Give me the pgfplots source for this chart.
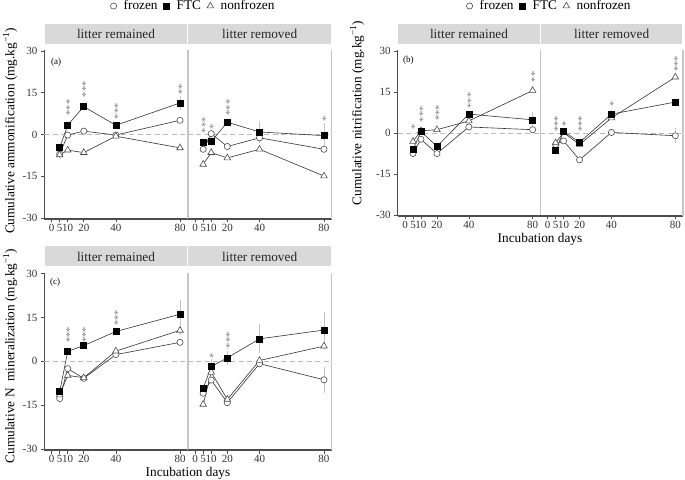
\documentclass[border=0pt]{standalone}
\usepackage{fontspec}
\setmainfont{Liberation Serif}
\usepackage{pgfplots}
\pgfplotsset{compat=1.18}

\definecolor{stripgray}{HTML}{D9D9D9}
\definecolor{divgray}{HTML}{C6C6C6}
\definecolor{axgray}{HTML}{4D4D4D}
\definecolor{errgray}{HTML}{C4C4C4}
\definecolor{stargray}{HTML}{7A7A7A}

\newcommand{\tickfont}{\fontsize{11}{12}\selectfont}
\newcommand{\labfont}{\fontsize{13.3}{15}\selectfont}
\newcommand{\stars}[3]{\node[stargray, rotate=90, inner sep=0pt, font=\fontsize{10.5}{10}\selectfont] at ([xshift=2pt]axis cs:#1,#2) {#3};}

\pgfplotsset{
  facet/.style={
    scale only axis, clip=false,
    xmin=-4.6, xmax=84.8, ymin=-30.3, ymax=30.3,
    xtick={0,5,10,20,40,80},
    ytick={-30,-15,0,15,30},
    tick align=outside, major tick length=3.5pt,
    tick style={axgray, line width=0.6pt},
    tick label style={font=\tickfont, text=black!80},
    xticklabel style={yshift=2pt},
    /pgf/number format/assume math mode=true,
    axis x line*=bottom,
    axis line style={-, axgray, line width=1.1pt},
    title style={at={(0.5,1)}, anchor=south, yshift=0pt, fill=stripgray,
      inner sep=0pt, minimum height=20pt, font=\labfont, text=black!85},
    every axis plot/.append style={line width=0.6pt, black!80},
    error bars/y dir=both, error bars/y explicit,
    error bars/error mark=none,
    error bars/error bar style={errgray, line width=0.8pt},
    legend image code/.code={\draw[##1] plot coordinates {(0pt,0pt)};},
    legend cell align=left,
  },
  leftfacet/.style={facet, axis y line*=left},
  rightfacet/.style={facet, axis y line=none, ytick=\empty},
  fz/.style={mark=*, mark size=3.1pt, mark options={fill=white, draw=black!70, line width=0.6pt}},
  ftc/.style={mark=square*, mark size=3pt, mark options={fill=black, draw=black}},
  nf/.style={mark=triangle*, mark size=3.8pt, mark options={fill=white, draw=black!70, line width=0.6pt}},
  zeroline/.style={forget plot, gray!55, line width=0.9pt, dash pattern=on 5pt off 3.5pt, error bars/y dir=none},
  leg/.style={legend style={draw=none, fill=none, at={#1}, anchor=center, legend columns=3,
      font=\labfont, nodes={inner sep=1pt},
      /tikz/every odd column/.append style={column sep=6pt},
      /tikz/every even column/.append style={column sep=5pt}}},
}

\begin{document}
\begin{tikzpicture}[x=1pt,y=1pt]
\path[use as bounding box] (0,0) rectangle (685,479);

% ---------------- (a) ammonification ----------------
\begin{axis}[leftfacet, at={(44.3pt,260pt)}, anchor=south west, width=143.4pt, height=169pt,
  title={litter remained}, title style={minimum width=142pt}, leg={(1.037,1.26)}]
\addlegendimage{only marks, fz}
\addlegendimage{only marks, ftc}
\addlegendimage{only marks, nf}
\legend{frozen, FTC, nonfrozen}
\addplot[zeroline] coordinates {(-4.6,0) (84.8,0)};
\addplot[fz] coordinates {(5,-7.0) +- (0,0.5) (10,-0.2) +- (0,0.8) (20,1.2) +- (0,0.5) (40,-0.2) +- (0,0.6) (80,5.1) +- (0,0.8)};
\addplot[nf] coordinates {(5,-7.3) +- (0,0.6) (10,-5.6) +- (0,0.5) (20,-6.5) +- (0,0.5) (40,-0.6) +- (0,0.5) (80,-4.8) +- (0,0.5)};
\addplot[ftc] coordinates {(5,-4.7) +- (0,0.8) (10,3.4) +- (0,1.2) (20,10.0) +- (0,0.6) (40,3.3) +- (0,0.6) (80,11.3) +- (0,2.5)};
\stars{10}{9.7}{***}
\stars{20}{16.2}{***}
\stars{40}{8.3}{***}
\stars{80}{16.1}{**}
\draw[divgray, line width=1.6pt] (rel axis cs:1,0) -- (rel axis cs:1,1);
\end{axis}
\begin{axis}[rightfacet, at={(187.7pt,260pt)}, anchor=south west, width=144pt, height=169pt,
  title={litter removed}, title style={minimum width=142.5pt}]
\addplot[zeroline] coordinates {(-4.6,0) (84.8,0)};
\addplot[fz] coordinates {(5,-5.3) +- (0,1.0) (10,0.3) +- (0,0.6) (20,-4.3) +- (0,0.6) (40,-1.2) +- (0,2.0) (80,-5.3) +- (0,1.5)};
\addplot[nf] coordinates {(5,-10.7) +- (0,0.6) (10,-6.5) +- (0,0.6) (20,-8.4) +- (0,0.5) (40,-5.3) +- (0,0.6) (80,-14.9) +- (0,0.6)};
\addplot[ftc] coordinates {(5,-2.9) +- (0,0.5) (10,-2.5) +- (0,1.6) (20,4.4) +- (0,1.2) (40,0.9) +- (0,3.8) (80,-0.4) +- (0,4.5)};
\stars{5}{3.3}{***}
\stars{10}{2.7}{*}
\stars{20}{9.7}{***}
\stars{80}{5.7}{*}
\draw[divgray, line width=1.2pt] (rel axis cs:1,0) -- (rel axis cs:1,1);
\end{axis}

% ---------------- (b) nitrification ----------------
\begin{axis}[leftfacet, at={(397.7pt,263pt)}, anchor=south west, width=142.6pt, height=166pt,
  title={litter remained}, title style={minimum width=141.2pt}, leg={(1.061,1.265)}]
\addlegendimage{only marks, fz}
\addlegendimage{only marks, ftc}
\addlegendimage{only marks, nf}
\legend{frozen, FTC, nonfrozen}
\addplot[zeroline] coordinates {(-4.6,0) (84.8,0)};
\addplot[fz] coordinates {(5,-7.5) +- (0,0.5) (10,-2.3) +- (0,0.6) (20,-7.5) +- (0,0.5) (40,2.2) +- (0,0.6) (80,1.2) +- (0,0.6)};
\addplot[nf] coordinates {(5,-3.1) +- (0,0.6) (10,0.8) +- (0,0.5) (20,1.2) +- (0,0.5) (40,4.4) +- (0,1.0) (80,15.5) +- (0,0.8)};
\addplot[ftc] coordinates {(5,-6.0) +- (0,0.6) (10,0.5) +- (0,0.5) (20,-4.9) +- (0,0.5) (40,6.9) +- (0,0.8) (80,4.8) +- (0,3.0)};
\stars{5}{2.1}{*}
\stars{10}{6.8}{***}
\stars{20}{7.4}{***}
\stars{40}{11.9}{***}
\stars{80}{20.5}{**}
\draw[divgray, line width=1.6pt] (rel axis cs:1,0) -- (rel axis cs:1,1);
\end{axis}
\begin{axis}[rightfacet, at={(540.3pt,263pt)}, anchor=south west, width=142.7pt, height=166pt,
  title={litter removed}, title style={minimum width=141.2pt}]
\addplot[zeroline] coordinates {(-4.6,0) (84.8,0)};
\addplot[fz] coordinates {(5,-4.2) +- (0,0.6) (10,-2.9) +- (0,0.5) (20,-9.8) +- (0,0.5) (40,0.2) +- (0,0.5) (80,-1.0) +- (0,2.8)};
\addplot[nf] coordinates {(5,-3.6) +- (0,0.6) (10,0.1) +- (0,0.6) (20,-4.2) +- (0,0.6) (40,5.5) +- (0,0.6) (80,20.4) +- (0,0.8)};
\addplot[ftc] coordinates {(5,-6.3) +- (0,0.6) (10,0.6) +- (0,0.6) (20,-3.4) +- (0,0.8) (40,6.9) +- (0,1.5) (80,11.3) +- (0,1.0)};
\stars{5}{3.3}{***}
\stars{10}{3.3}{*}
\stars{20}{3.3}{***}
\stars{40}{10.7}{*}
\stars{80}{25.2}{***}
\draw[divgray, line width=1.2pt] (rel axis cs:1,0) -- (rel axis cs:1,1);
\end{axis}

% ---------------- (c) N mineralization ----------------
\begin{axis}[leftfacet, at={(44.3pt,29pt)}, anchor=south west, width=143.4pt, height=177.3pt,
  title={litter remained}, title style={minimum width=142pt}]
\addplot[zeroline] coordinates {(-4.6,0) (84.8,0)};
\addplot[fz] coordinates {(5,-12.7) +- (0,1.5) (10,-2.5) +- (0,0.8) (20,-5.8) +- (0,0.5) (40,2.3) +- (0,0.6) (80,6.5) +- (0,0.6)};
\addplot[nf] coordinates {(5,-11.5) +- (0,0.6) (10,-4.8) +- (0,0.5) (20,-5.6) +- (0,0.5) (40,3.5) +- (0,0.6) (80,10.6) +- (0,1.5)};
\addplot[ftc] coordinates {(5,-10.4) +- (0,0.6) (10,3.4) +- (0,1.2) (20,5.4) +- (0,0.6) (40,10.2) +- (0,0.6) (80,16.1) +- (0,5.0)};
\stars{10}{9.1}{***}
\stars{20}{9.1}{***}
\stars{40}{14.8}{***}
\draw[divgray, line width=1.6pt] (rel axis cs:1,0) -- (rel axis cs:1,1);
\end{axis}
\begin{axis}[rightfacet, at={(187.7pt,29pt)}, anchor=south west, width=144pt, height=177.3pt,
  title={litter removed}, title style={minimum width=142.5pt}]
\addplot[zeroline] coordinates {(-4.6,0) (84.8,0)};
\addplot[fz] coordinates {(5,-10.9) +- (0,0.8) (10,-6.4) +- (0,0.6) (20,-14.1) +- (0,0.6) (40,-0.8) +- (0,0.6) (80,-6.3) +- (0,4.5)};
\addplot[nf] coordinates {(5,-14.7) +- (0,0.6) (10,-3.7) +- (0,0.8) (20,-13.0) +- (0,0.6) (40,0.3) +- (0,0.6) (80,5.2) +- (0,1.2)};
\addplot[ftc] coordinates {(5,-9.2) +- (0,0.6) (10,-1.8) +- (0,2.5) (20,1.2) +- (0,2.5) (40,7.7) +- (0,5.0) (80,10.7) +- (0,6.0)};
\stars{10}{2.0}{*}
\stars{20}{7.2}{***}
\draw[divgray, line width=1.2pt] (rel axis cs:1,0) -- (rel axis cs:1,1);
\end{axis}

% axis titles and panel tags
\node[rotate=90, font=\labfont] at (10,348) {Cumulative ammonification (mg.kg\textsuperscript{−1})};
\node[rotate=90, font=\labfont] at (357,366) {Cumulative nitrification (mg.kg\textsuperscript{−1})};
\node[rotate=90, font=\labfont] at (10,123) {Cumulative N\ \ mineralization (mg.kg\textsuperscript{−1})};
\node[font=\labfont] at (540,240) {Incubation days};
\node[font=\labfont] at (188,6) {Incubation days};
\node[anchor=west, inner sep=0pt, font=\fontsize{9}{10}\selectfont] at (51,416.7) {(a)};
\node[anchor=west, inner sep=0pt, font=\fontsize{9}{10}\selectfont] at (403,419) {(b)};
\node[anchor=west, inner sep=0pt, font=\fontsize{9}{10}\selectfont] at (50,196.3) {(c)};
\end{tikzpicture}
\end{document}
